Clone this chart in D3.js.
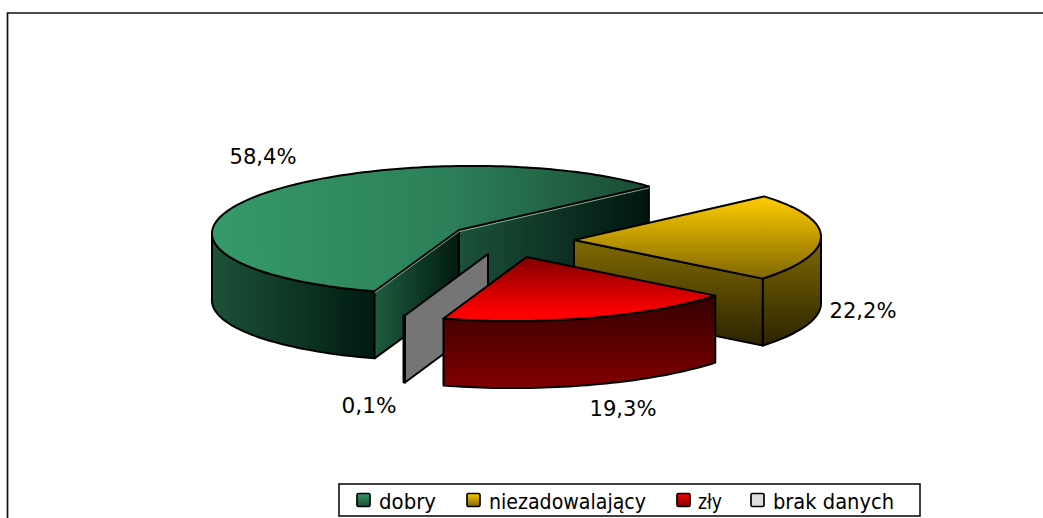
<!DOCTYPE html>
<html><head><meta charset="utf-8">
<script src="https://cdnjs.cloudflare.com/ajax/libs/d3/7.8.5/d3.min.js"></script>
<style>html,body{margin:0;padding:0;background:#fff;overflow:hidden}svg{display:block}</style>
</head><body><svg id="c" width="1043" height="518"></svg>
<script>
const categories = ["dobry","niezadowalający","zły","brak danych"];
const values = [58.4,22.2,19.3,0.1];
const labels = ["58,4%","22,2%","19,3%","0,1%"];

const FONT = "'DejaVu Sans',Tahoma,sans-serif";
const rad = d => d*Math.PI/180;
const rx = 247, ry = 64, depth = 67, shear = 0.014;
const apex = [[459,230],[574,240],[526.5,257],[488,254]];
const labelPos = [[263,164],[863,318],[623,416],[369,413]];
const labelW = 67, labelWShort = 55;
const legendSwatchX = [357,467,677,751];
const legendTextX = [379,489,698,773];
const legendTextW = [57,157,24,121];

const styles = [
 {top:{v:0,a:212,b:648,s:[[0,"#359a69"],[.55,"#2c7f58"],[1,"#1a4a33"]]},
  outer:{v:0,a:212,b:375,s:[[0,"#1c5239"],[1,"#001a10"]]},
  start:{v:0,a:375,b:459,s:[[0,"#1e5b3e"],[1,"#001a10"]]},
  end:{v:0,a:459,b:648,s:[[0,"#1c5239"],[1,"#001510"]]}},
 {top:{v:1,a:197,b:279,s:[[0,"#ffcc00"],[1,"#7f6600"]]},
  outer:{v:1,a:238,b:347,s:[[0,"#806a00"],[1,"#2a2200"]]},
  start:{v:1,a:238,b:347,s:[[0,"#806a00"],[1,"#2a2200"]]},
  end:{v:1,a:240,b:347,s:[[0,"#806a00"],[1,"#2a2200"]]}},
 {top:{v:1,a:257,b:312,s:[[0,"#800000"],[1,"#ff0000"]]},
  outer:{v:1,a:295,b:385,s:[[0,"#330000"],[1,"#800000"]]},
  start:{v:1,a:295,b:385,s:[[0,"#330000"],[1,"#800000"]]},
  end:{v:1,a:295,b:385,s:[[0,"#330000"],[1,"#800000"]]}},
 {top:{v:1,a:250,b:320,s:[[0,"#c0c0c0"],[1,"#c0c0c0"]]},
  outer:{v:1,a:250,b:390,s:[[0,"#757575"],[1,"#757575"]]},
  start:{v:1,a:250,b:390,s:[[0,"#757575"],[1,"#757575"]]},
  end:{v:1,a:250,b:390,s:[[0,"#757575"],[1,"#757575"]]}}
];
const swatches = [
 [[0,"#339966"],[1,"#1a4d33"]],
 [[0,"#ffcc00"],[1,"#806600"]],
 [[0,"#ff0000"],[1,"#800000"]],
 [[0,"#dddddd"],[1,"#dddddd"]]
];

const svg = d3.select("#c");
const defs = svg.append("defs");
let gid = 0;
function grad(g){
  const id = "g"+(gid++);
  const n = defs.append("linearGradient").attr("id",id).attr("gradientUnits","userSpaceOnUse")
    .attr("x1",g.v?0:g.a).attr("x2",g.v?0:g.b).attr("y1",g.v?g.a:0).attr("y2",g.v?g.b:0);
  g.s.forEach(s=>n.append("stop").attr("offset",s[0]).attr("stop-color",s[1]));
  return `url(#${id})`;
}

// frame
svg.append("path").attr("d","M7.5 518V13H1043").attr("fill","none").attr("stroke","#111").attr("stroke-width",1.7);

const pie = d3.pie().sort(null).startAngle(rad(200)).endAngle(rad(560));
const arcs = pie(values);
const line = d3.line();
const pt = (c,t,dz=0)=>{
  const dx = rx*Math.sin(t);
  return [c[0]+dx, c[1]-ry*Math.cos(t)-shear*dx+dz];
};
const range = (a,b)=>{const n=Math.max(2,Math.ceil(Math.abs(b-a)/rad(1.5)));return d3.range(n+1).map(i=>a+(b-a)*i/n);};
const g = svg.append("g");
const face = (pts,fill)=>g.append("path").attr("d",line(pts)+"Z").attr("fill",fill)
  .attr("stroke","#000").attr("stroke-width",2).attr("stroke-linejoin","round");

// paint back to front: dobry, niezadowalający, brak danych, zły
[0,1,3,2].forEach(i=>{
  const d = arcs[i], c = apex[i], st = styles[i];
  const a0 = d.startAngle, a1 = d.endAngle;
  [[rad(90),rad(270)],[rad(450),rad(630)]].forEach(([lo,hi])=>{
    const p = Math.max(a0,lo), q = Math.min(a1,hi);
    if(q>p){
      const rim = range(p,q);
      face(rim.map(t=>pt(c,t)).concat(rim.slice().reverse().map(t=>pt(c,t,depth))),grad(st.outer));
    }
  });
  if(Math.sin(a0)<0){
    face([c,pt(c,a0),pt(c,a0,depth),[c[0],c[1]+depth]],grad(st.start));
  }
  if(Math.sin(a1)>0){
    face([c,pt(c,a1),pt(c,a1,depth),[c[0],c[1]+depth]],grad(st.end));
  }
  if(a1-a0>rad(2)){
    face([c].concat(range(a0,a1).map(t=>pt(c,t))),grad(st.top));
  }
  if(i===0){
    g.append("path").attr("d",line([pt(c,a0,1.6),[c[0],c[1]+1.6],pt(c,a1,1.6)])).attr("fill","none")
      .attr("stroke","#9fd0b6").attr("stroke-width",.8);
  }
});

// value labels
svg.append("g").selectAll("text").data(labels).join("text")
  .attr("x",(d,i)=>labelPos[i][0]).attr("y",(d,i)=>labelPos[i][1])
  .attr("text-anchor","middle").attr("font-family",FONT).attr("font-size",22).attr("font-stretch","condensed")
  .attr("textLength",d=>d.length>4?labelW:labelWShort).attr("lengthAdjust","spacingAndGlyphs")
  .attr("fill","#000").text(d=>d);

// legend
const lg = svg.append("g");
lg.append("rect").attr("x",339).attr("y",484).attr("width",581).attr("height",32).attr("fill","#fff").attr("stroke","#000").attr("stroke-width",1.5);
categories.forEach((name,i)=>{
  const id="s"+i, n=defs.append("linearGradient").attr("id",id).attr("x1",0).attr("x2",0).attr("y1",0).attr("y2",1);
  swatches[i].forEach(s=>n.append("stop").attr("offset",s[0]).attr("stop-color",s[1]));
  lg.append("rect").attr("x",legendSwatchX[i]).attr("y",493.5).attr("width",13).attr("height",13).attr("rx",1.5)
    .attr("fill",`url(#${id})`).attr("stroke","#000").attr("stroke-width",1.7);
  lg.append("text").attr("x",legendTextX[i]).attr("y",509).attr("font-family",FONT).attr("font-size",22).attr("font-stretch","condensed")
    .attr("textLength",legendTextW[i]).attr("lengthAdjust","spacingAndGlyphs").text(name);
});
</script></body></html>
